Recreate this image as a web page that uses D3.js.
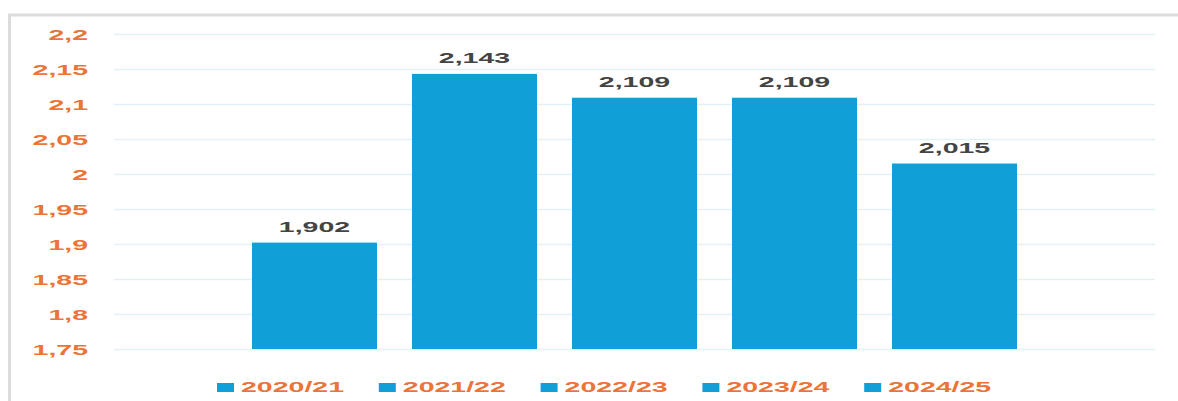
<!DOCTYPE html>
<html>
<head>
<meta charset="utf-8">
<script src="https://cdn.jsdelivr.net/npm/d3@7"></script>
<style>
  body { margin: 0; background: #fff; }
  text { font-family: "Liberation Sans", Arial, sans-serif; font-weight: bold; }
</style>
</head>
<body>
<svg id="chart" width="1178" height="401"></svg>
<script>
const groups = [""];
const seasons = ["2020/21", "2021/22", "2022/23", "2023/24", "2024/25"];
const values = [1.902, 2.143, 2.109, 2.109, 2.015];
const yTicks = [1.75, 1.8, 1.85, 1.9, 1.95, 2, 2.05, 2.1, 2.15, 2.2];

const blue = "#119fd7", orange = "#ec7436", stretch = 1.9;
const loc = d3.formatLocale({decimal: ",", thousands: ".", grouping: [3], currency: ["", ""]});
const fmtVal = loc.format(".3f");
const fmtTick = d => String(+d.toFixed(2)).replace(".", ",");

const svg = d3.select("#chart");

// frame
svg.append("path")
  .attr("d", "M9.5,401 V15 H1178")
  .attr("fill", "none")
  .attr("stroke", "#dcdcdc")
  .attr("stroke-width", 3);

const plotL = 114, plotR = 1155, plotT = 34, plotB = 349;

const y = d3.scaleLinear().domain([1.75, 2.2]).range([plotB, plotT]);
const x0 = d3.scaleBand().domain(groups).range([plotL, plotR]).padding(0.1528);
const x1 = d3.scaleBand().domain(seasons).range([0, x0.bandwidth()])
  .paddingInner(0.21875).paddingOuter(0);

const yAxis = svg.append("g")
  .attr("transform", `translate(${plotL},0)`)
  .call(d3.axisLeft(y).tickValues(yTicks).tickFormat(fmtTick)
    .tickSize(-(plotR - plotL)).tickPadding(0));
yAxis.select(".domain").remove();
yAxis.selectAll(".tick line").attr("stroke", "#e2f1f8").attr("stroke-width", 1.5);
yAxis.selectAll(".tick text")
  .attr("x", -26 / stretch)
  .attr("dy", "0.35em")
  .attr("transform", `scale(${stretch},1)`)
  .attr("fill", orange)
  .style("font-size", "15px");

const g = svg.append("g").attr("transform", `translate(${x0(groups[0])},0)`);

g.selectAll("rect")
  .data(seasons)
  .join("rect")
  .attr("x", d => x1(d))
  .attr("y", (d, i) => y(values[i]))
  .attr("width", x1.bandwidth())
  .attr("height", (d, i) => y(1.75) - y(values[i]))
  .attr("fill", blue);

g.selectAll("text.val")
  .data(seasons)
  .join("text")
  .attr("class", "val")
  .attr("transform", (d, i) => `translate(${x1(d) + x1.bandwidth() / 2},${y(values[i]) - 11}) scale(${stretch},1)`)
  .attr("text-anchor", "middle")
  .attr("fill", "#444")
  .style("font-size", "15px")
  .text((d, i) => fmtVal(values[i]));

// legend
const legend = svg.append("g").attr("transform", "translate(217,0)");
const item = legend.selectAll("g")
  .data(seasons)
  .join("g")
  .attr("transform", (d, i) => `translate(${i * 161.8},0)`);
item.append("rect")
  .attr("x", 0).attr("y", 383)
  .attr("width", 17).attr("height", 9)
  .attr("fill", blue);
item.append("text")
  .attr("transform", `translate(24,392) scale(${stretch},1)`)
  .attr("fill", orange)
  .style("font-size", "15px")
  .text(d => d);
</script>
</body>
</html>
